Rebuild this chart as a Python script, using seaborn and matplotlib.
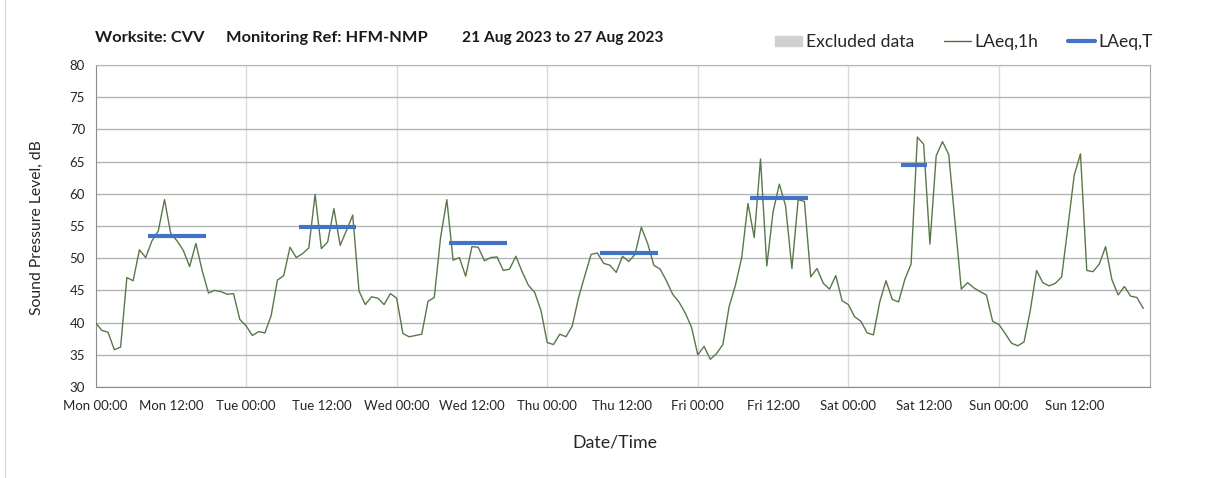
import numpy as np
import pandas as pd
import matplotlib.pyplot as plt
import seaborn as sns
from matplotlib.lines import Line2D
from matplotlib.patches import Patch

# hourly LAeq,1h readings (dB), one list per day starting 00:00
mon = [40.0, 38.8, 38.5, 35.8, 36.2, 47.0, 46.5, 51.3, 50.1, 52.7, 54.2, 59.1,
       53.8, 52.7, 51.2, 48.7, 52.3, 48.1, 44.6, 45.0, 44.8, 44.4, 44.5, 40.5]
tue = [39.5, 38.0, 38.6, 38.4, 41.1, 46.6, 47.3, 51.7, 50.1, 50.7, 51.6, 59.9,
       51.5, 52.5, 57.7, 52.0, 54.3, 56.7, 44.9, 42.8, 44.0, 43.8, 42.8, 44.5]
wed = [43.8, 38.3, 37.8, 38.0, 38.2, 43.3, 43.9, 53.2, 59.1, 49.7, 50.1, 47.2,
       51.8, 51.7, 49.6, 50.1, 50.2, 48.1, 48.3, 50.3, 47.9, 45.8, 44.7, 41.9]
thu = [36.9, 36.6, 38.2, 37.8, 39.5, 43.9, 47.3, 50.6, 50.8, 49.2, 48.9, 47.8,
       50.3, 49.5, 50.6, 54.8, 52.3, 48.9, 48.3, 46.5, 44.4, 43.2, 41.5, 39.3]
fri = [35.0, 36.3, 34.3, 35.2, 36.6, 42.5, 45.8, 50.1, 58.5, 53.2, 65.4, 48.8,
       57.2, 61.5, 58.1, 48.4, 59.1, 58.8, 47.1, 48.4, 46.1, 45.2, 47.3, 43.4]
sat = [42.8, 40.9, 40.2, 38.4, 38.1, 43.2, 46.5, 43.6, 43.2, 46.7, 49.1, 68.8,
       67.7, 52.2, 65.9, 68.1, 66.1, 55.7, 45.2, 46.2, 45.4, 44.8, 44.3, 40.2]
sun = [39.7, 38.3, 36.8, 36.4, 37.0, 41.9, 48.1, 46.2, 45.7, 46.1, 47.1, 54.9,
       62.9, 66.2, 48.1, 47.9, 49.1, 51.8, 46.7, 44.3, 45.6, 44.1, 43.9, 42.2]

days = ['Mon', 'Tue', 'Wed', 'Thu', 'Fri', 'Sat', 'Sun']

# LAeq,T over the working period (Mon-Sat), start/end in hours of the day
laeq_t = [53.5, 54.9, 52.4, 50.8, 59.4, 64.4]
period_start = [8.4, 8.4, 8.4, 8.4, 8.4, 8.4]
period_end = [17.6, 17.6, 17.6, 17.6, 17.6, 12.6]

laeq_1h = mon + tue + wed + thu + fri + sat + sun
df = pd.DataFrame({'hour': np.arange(len(laeq_1h)), 'laeq_1h': laeq_1h})

sns.set_style('white')
plt.rcParams['font.family'] = ['Lato', 'DejaVu Sans']

W, H = 1208, 478
fig = plt.figure(figsize=(W / 100, H / 100), dpi=100)
ax = fig.add_axes([95.5 / W, 1 - 387 / H, 1054 / W, 322 / H])

# day boundaries
for d in range(24, 168, 24):
    ax.axvline(d, color='#dadada', lw=1, zorder=0)

sns.lineplot(data=df, x='hour', y='laeq_1h', color='#58784a', lw=1.0, ax=ax, zorder=3)

offsets = [24 * i for i in range(len(laeq_t))]
ax.hlines(laeq_t, np.add(offsets, period_start), np.add(offsets, period_end),
          color='#4472c4', lw=3, zorder=4)

ax.set_xlim(0, 168)
ax.set_ylim(30, 80)
ax.set_yticks(range(30, 81, 5))
xt = list(range(0, 169, 12))
ax.set_xticks(xt)
ax.set_xticklabels([f'{days[t // 24]} {t % 24:02d}:00' if t < 168 else '' for t in xt])
ax.grid(axis='y', color='#b5b5b5', lw=1)
ax.set_xlabel('')
ax.set_ylabel('')

for s in ['left', 'bottom']:
    ax.spines[s].set_color('#8c8c8c')
ax.spines['top'].set_color('#b5b5b5')
ax.spines['right'].set_color('#a6a6a6')
ax.tick_params(axis='both', direction='out', length=4, width=1, color='#8c8c8c',
               labelsize=9.5, labelcolor='#262626')
ax.tick_params(axis='x', pad=5)

fig.text(37 / W, 1 - 228 / H, 'Sound Pressure Level, dB', rotation=90,
         ha='center', va='center', fontsize=11.3, color='#262626')
fig.text(615 / W, 1 - 443 / H, 'Date/Time', ha='center', va='center',
         fontsize=12.8, color='#262626')

# title pieces
fig.text(95 / W, 1 - 38 / H, 'Worksite: CVV', ha='left', va='center',
         fontsize=11.8, fontweight='bold', color='#1a1a1a')
fig.text(226 / W, 1 - 38 / H, 'Monitoring Ref: HFM-NMP', ha='left', va='center',
         fontsize=11.8, fontweight='bold', color='#1a1a1a')
fig.text(462 / W, 1 - 38 / H, '21 Aug 2023 to 27 Aug 2023', ha='left', va='center',
         fontsize=11.2, fontweight='bold', color='#1a1a1a')

handles = [Patch(color='#d0d0d0', label='Excluded data'),
           Line2D([], [], color='#4e6b3a', lw=1, label='LAeq,1h'),
           Line2D([], [], color='#4472c4', lw=3, label='LAeq,T')]
fig.legend(handles=handles, loc='center left', bbox_to_anchor=(775 / W, 1 - 42 / H),
           ncol=3, frameon=False, fontsize=12.6, handlelength=1.55, handleheight=0.55,
           handletextpad=0.2, columnspacing=1.7, borderaxespad=0, borderpad=0)

fig.add_artist(Line2D([4.5 / W, 4.5 / W], [0, 1], color='#d9d9d9', lw=1,
                      transform=fig.transFigure))

fig.savefig('out.png', dpi=100)
